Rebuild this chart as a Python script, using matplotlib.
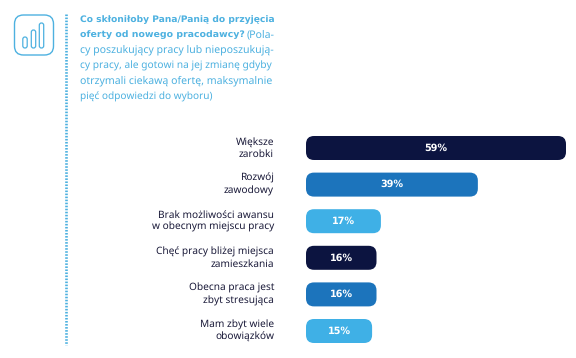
import matplotlib
matplotlib.use('Agg')
import matplotlib.pyplot as plt
from matplotlib.patches import FancyBboxPatch

W, H = 576, 358

categories = ['Większe\nzarobki', 'Rozwój\nzawodowy', 'Brak możliwości awansu\nw obecnym miejscu pracy',
              'Chęć pracy bliżej miejsca\nzamieszkania', 'Obecna praca jest\nzbyt stresująca',
              'Mam zbyt wiele\nobowiązków']
values = [59, 39, 17, 16, 16, 15]
bar_colors = ['#0c1440', '#1c74bc', '#3fb0e6', '#0c1440', '#1c74bc', '#3fb0e6']

title_bold = ['Co skłoniłoby Pana/Panią do przyjęcia', 'oferty od nowego pracodawcy?']
title_regular = ['(Pola-', 'cy poszukujący pracy lub nieposzukują-',
                 'cy pracy, ale gotowi na jej zmianę gdyby',
                 'otrzymali ciekawą ofertę, maksymalnie',
                 'pięć odpowiedzi do wyboru)']

plt.rcParams['font.family'] = ['Noto Sans', 'DejaVu Sans']
plt.rcParams['text.hinting'] = 'no_hinting'
BLUE = '#4db1e0'
DARK = '#1b1b3a'
BOLD = 'DejaVu Sans'

fig = plt.figure(figsize=(W / 100, H / 100), dpi=100, facecolor='white')

# background layer in pixel coords, for the icon, dotted rule and heading
bg = fig.add_axes([0, 0, 1, 1])
bg.set_xlim(0, W)
bg.set_ylim(H, 0)
bg.axis('off')

# icon
bg.add_patch(FancyBboxPatch((14.5, 15), 39, 40, boxstyle='round,pad=0,rounding_size=9',
                            fc='none', ec=BLUE, lw=1))
for x, top in [(25, 37), (33.5, 30), (41.5, 23)]:
    bg.add_patch(FancyBboxPatch((x - 2.2, top), 4.4, 48 - top, boxstyle='round,pad=0,rounding_size=2.2',
                                fc='none', ec=BLUE, lw=0.9))

# dotted rule
bg.plot([66, 66], [14, 345], color=BLUE, lw=1.9, ls=(0, (0.6, 0.55)), solid_capstyle='butt')

# heading
bg.text(80, 20, title_bold[0], color=BLUE, fontsize=6.55, family=BOLD, fontweight='bold', va='center')
bg.text(80, 35, title_bold[1], color=BLUE, fontsize=6.75, family=BOLD, fontweight='bold', va='center')
bg.text(247, 35, title_regular[0], color=BLUE, fontsize=7.6, va='center')
for y, line, fs in zip([50, 66, 81, 97], title_regular[1:], [7.6, 7.35, 7.6, 7.25]):
    bg.text(80, y, line, color=BLUE, fontsize=fs, va='center')

# bars
ax = fig.add_axes([306 / W, 1 - 349.3 / H, 260 / W, (349.3 - 129.7) / H])
ax.set_xlim(0, 59)
ax.set_ylim(5.5, -0.5)
ax.axis('off')

px_x = 260 / 59
px_y = (349.3 - 129.7) / 6
r = 8 / px_x
aspect = (8 / px_y) / r
bar_h = 24 / px_y

for i, (cat, v, c) in enumerate(zip(categories, values, bar_colors)):
    ax.add_patch(FancyBboxPatch((0, i - bar_h / 2), v, bar_h,
                                boxstyle='round,pad=0,rounding_size=%f' % r,
                                mutation_aspect=aspect, fc=c, ec='none'))
    ax.text(v / 2, i, '%d%%' % v, color='white', fontsize=6.9, family=BOLD, fontweight='bold',
            ha='center', va='center')
    ax.text(-32 / px_x, i, cat, color=DARK, fontsize=7.3, ha='right', va='center',
            linespacing=1.3, clip_on=False)

fig.savefig('out.png', dpi=100)
